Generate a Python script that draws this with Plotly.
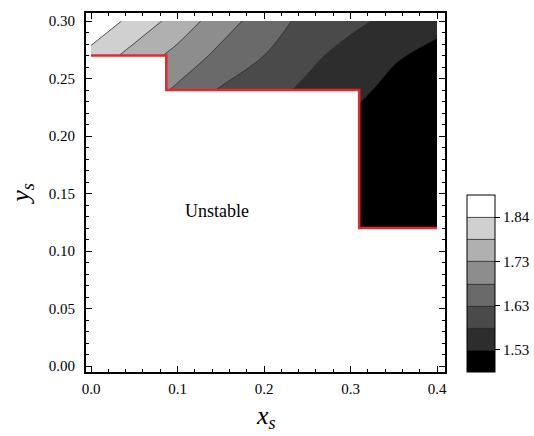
import plotly.graph_objects as go

# Grid of the stability-measure values
x_vals = [0.0, 0.05, 0.10, 0.15, 0.20, 0.25, 0.30, 0.35, 0.40]
y_vals = [0.12, 0.15, 0.18, 0.21, 0.24, 0.27, 0.30]
z_y012 = [1.57, 1.52, 1.48, 1.46, 1.45, 1.44, 1.44, 1.43, 1.42]
z_y015 = [1.62, 1.57, 1.52, 1.49, 1.48, 1.47, 1.46, 1.45, 1.44]
z_y018 = [1.67, 1.62, 1.57, 1.53, 1.51, 1.50, 1.49, 1.47, 1.45]
z_y021 = [1.72, 1.67, 1.62, 1.58, 1.55, 1.53, 1.515, 1.49, 1.47]
z_y024 = [1.770, 1.723, 1.673, 1.625, 1.596, 1.567, 1.540, 1.510, 1.490]
z_y027 = [1.825, 1.767, 1.719, 1.668, 1.630, 1.590, 1.559, 1.531, 1.510]
z_y030 = [1.876, 1.825, 1.766, 1.708, 1.656, 1.615, 1.590, 1.564, 1.540]

# Stability boundary (red staircase)
boundary_x = [0.0, 0.087, 0.087, 0.31, 0.31, 0.40]
boundary_y = [0.27, 0.27, 0.24, 0.24, 0.12, 0.12]

# Unstable region (masked white), slightly beyond the data grid
unstable_x = [-0.01, -0.01, 0.087, 0.087, 0.31, 0.31, 0.41, 0.41]
unstable_y = [0.10, 0.27, 0.27, 0.24, 0.24, 0.12, 0.12, 0.10]

cbar_tickvals = [1.525, 1.63, 1.735, 1.84]
cbar_ticktext = ["1.53", "1.63", "1.73", "1.84"]

band_colors = ["#000000", "#2d2d2d", "#4a4a4a", "#6a6a6a",
               "#8d8d8d", "#b0b0b0", "#d0d0d0", "#ffffff"]
n = len(band_colors)
colorscale = []
for i, c in enumerate(band_colors):
    colorscale.append([i / n, c])
    colorscale.append([(i + 1) / n, c])

z = [z_y012, z_y015, z_y018, z_y021, z_y024, z_y027, z_y030]

SERIF = "Liberation Serif"

start, size = 1.525, 0.0525
fig = go.Figure()
fig.add_trace(go.Contour(
    x=x_vals, y=y_vals, z=z,
    contours=dict(start=start, end=start + 6 * size, size=size, coloring="fill"),
    colorscale=colorscale, zmin=start - size, zmax=start + 7 * size,
    line=dict(color="#2a2a2a", width=0.8),
    colorbar=dict(
        x=1.06, xanchor="left", xpad=0, y=0, yanchor="bottom", ypad=0,
        len=177, lenmode="pixels", thickness=28, thicknessmode="pixels",
        outlinecolor="black", outlinewidth=1,
        tickmode="array", tickvals=cbar_tickvals, ticktext=cbar_ticktext,
        ticks="outside", ticklen=5, tickcolor="black",
        tickfont=dict(family=SERIF, size=15, color="black"),
    ),
    hoverinfo="skip",
))
fig.add_trace(go.Scatter(
    x=unstable_x, y=unstable_y, mode="none", fill="toself",
    fillcolor="white", hoverinfo="skip", showlegend=False,
))
fig.add_trace(go.Scatter(
    x=boundary_x, y=boundary_y, mode="lines",
    line=dict(color="#e8262d", width=2.5), hoverinfo="skip", showlegend=False,
))

fig.add_annotation(x=0.146, y=0.135, text="Unstable", showarrow=False,
                   font=dict(family=SERIF, size=18, color="black"))
fig.add_annotation(x=0.5, y=-0.125, xref="paper", yref="paper",
                   text="<i>x<sub>s</sub></i>", showarrow=False,
                   xanchor="center", yanchor="middle",
                   font=dict(family=SERIF, size=26, color="black"))

axis_common = dict(
    showgrid=False, zeroline=False, showline=True, linecolor="black", linewidth=1.8,
    mirror="allticks", ticks="inside", ticklen=6, tickcolor="black",
    tickfont=dict(family=SERIF, size=15, color="black"),
    automargin=True,
)
fig.update_xaxes(range=[-0.0058, 0.4092], tickvals=[0, 0.1, 0.2, 0.3, 0.4],
                 tickformat=".1f", ticklabelstandoff=2,
                 minor=dict(dtick=0.02, ticks="inside", ticklen=3, tickcolor="black"),
                 **axis_common)
fig.update_yaxes(range=[-0.0052, 0.307], tickvals=[0, 0.05, 0.1, 0.15, 0.2, 0.25, 0.3],
                 tickformat=".2f", ticklabelstandoff=6,
                 minor=dict(dtick=0.01, ticks="inside", ticklen=3, tickcolor="black"),
                 title=dict(text="<i>y<sub>s</sub></i>", standoff=12,
                            font=dict(family=SERIF, size=26, color="black")),
                 **axis_common)

fig.update_layout(
    width=534, height=436,
    margin=dict(l=86, r=89, t=13, b=64, autoexpand=False),
    plot_bgcolor="white", paper_bgcolor="white",
    font=dict(family=SERIF, color="black"),
    showlegend=False,
)
fig.write_html("out.html")
